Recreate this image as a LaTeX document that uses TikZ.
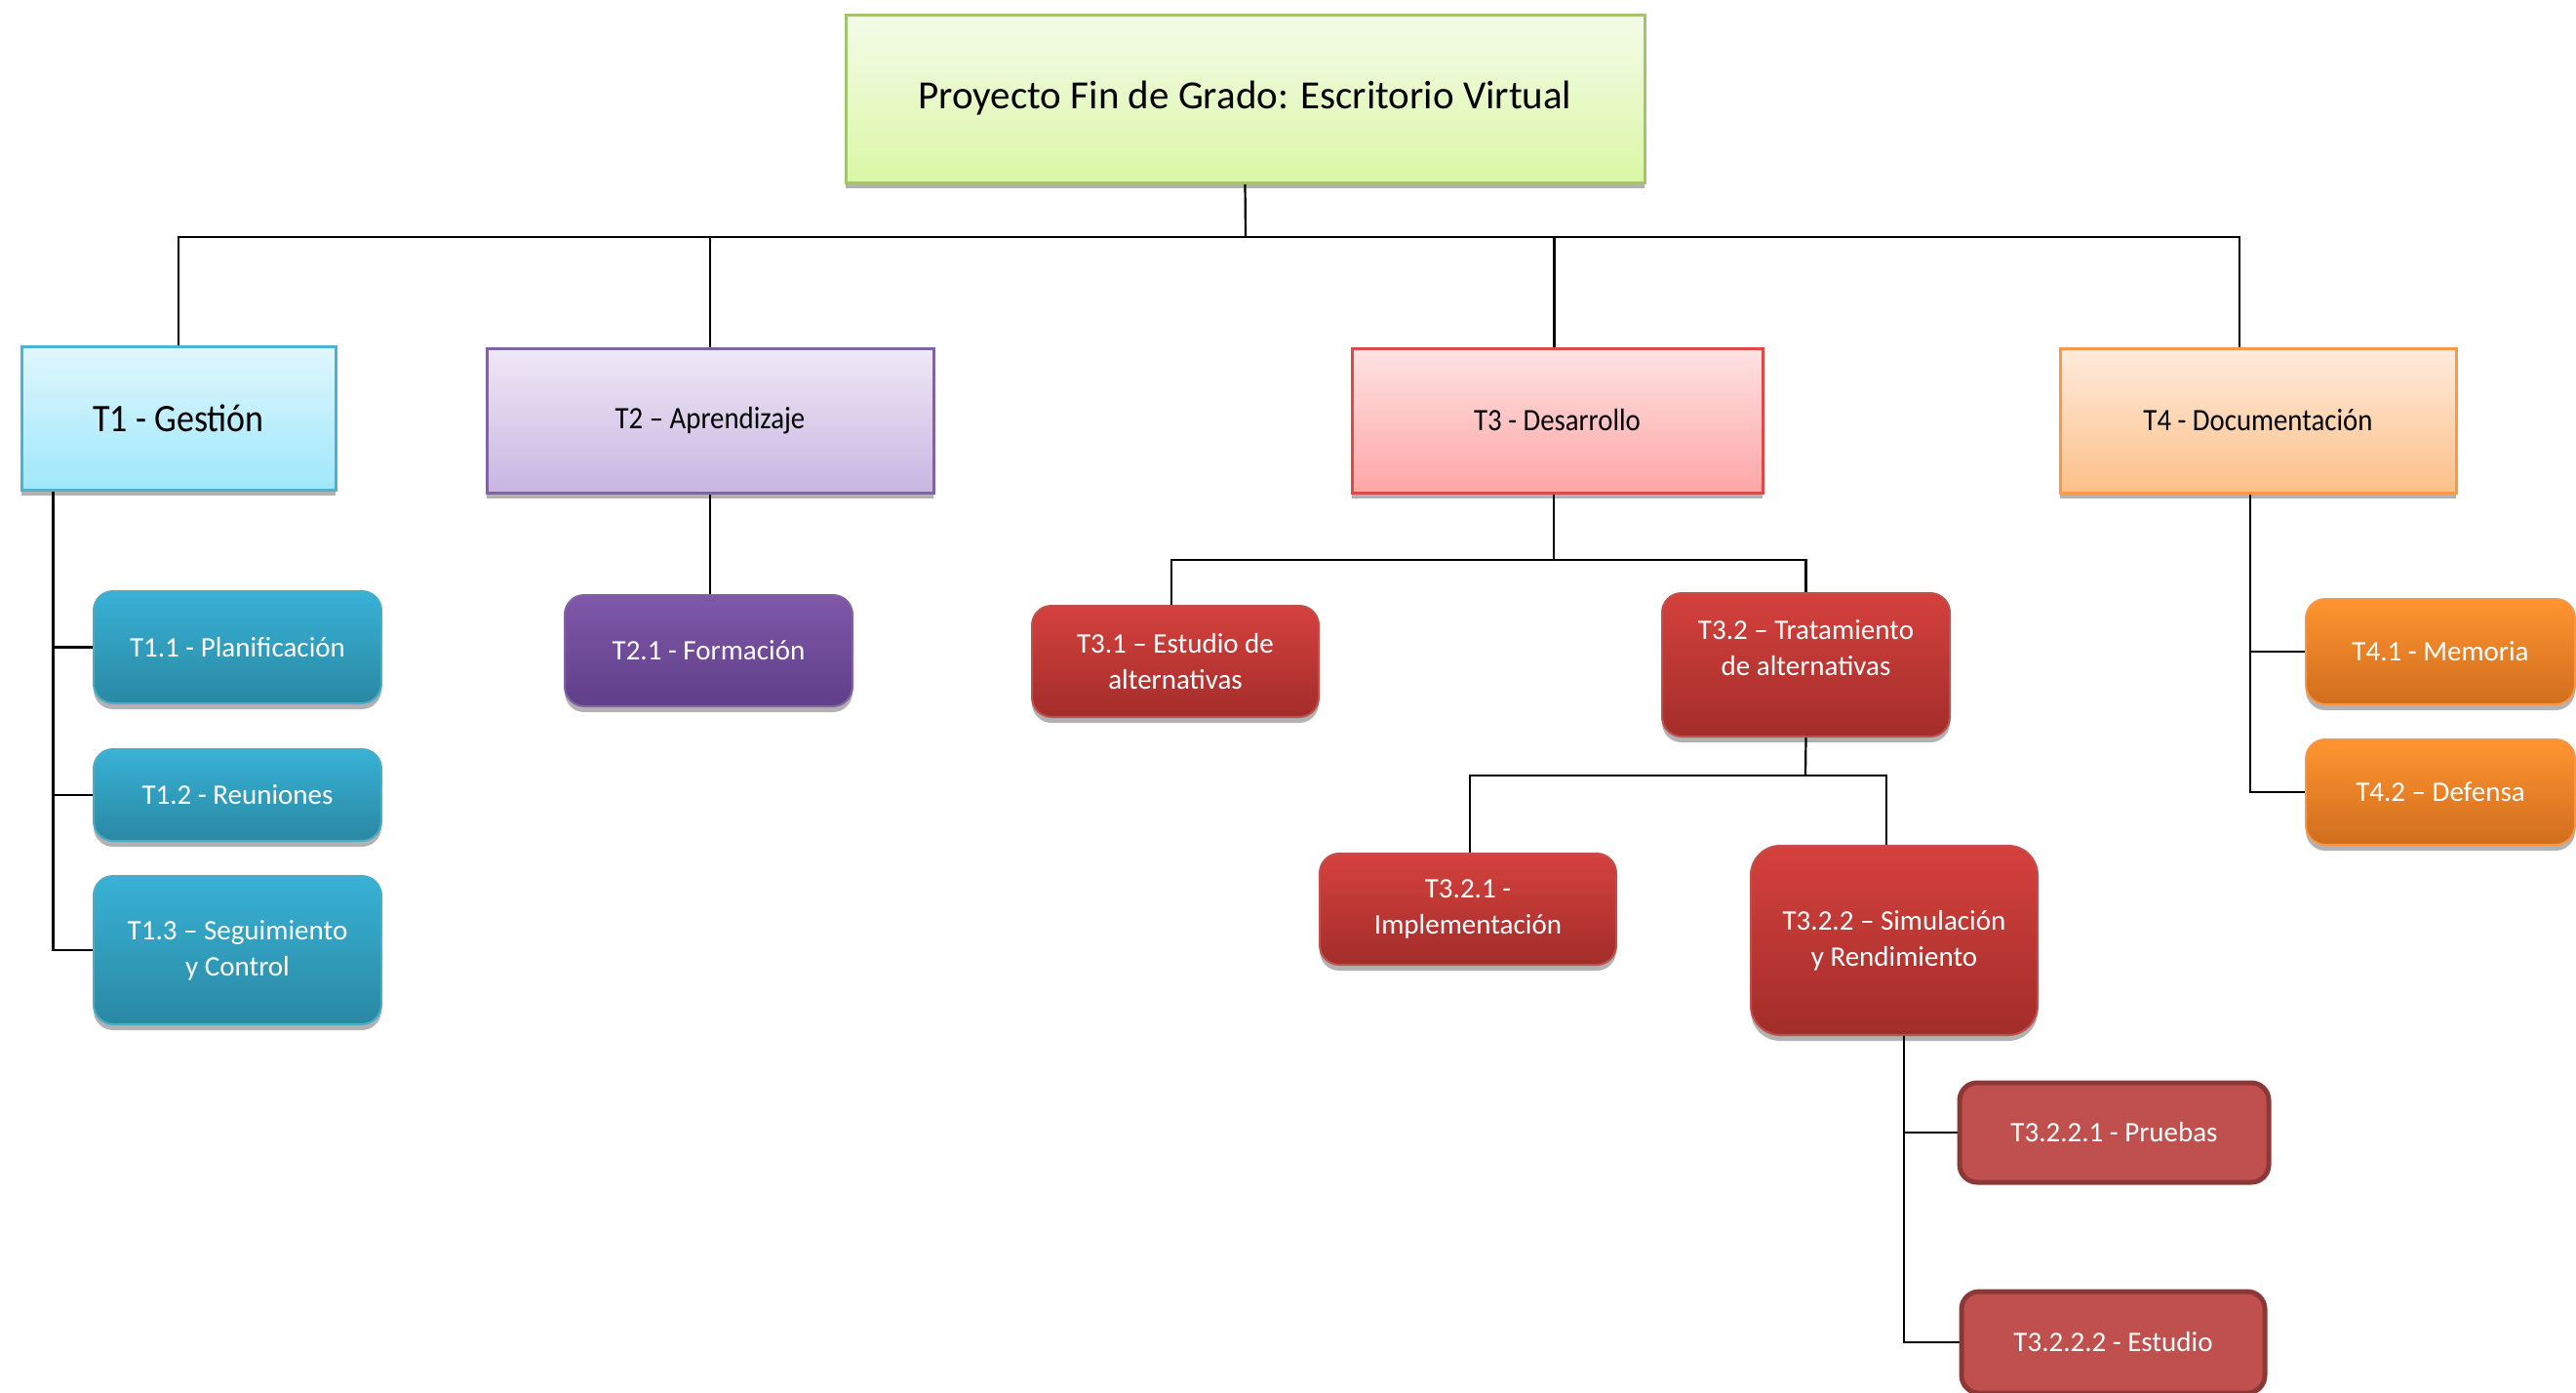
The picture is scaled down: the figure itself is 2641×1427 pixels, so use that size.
\documentclass[tikz,border=0pt]{standalone}
\usepackage{fontspec}
\setmainfont{Carlito}
\newfontfamily\condfont[FakeStretch=0.9]{Carlito}
\usetikzlibrary{shadows,backgrounds,calc}
\definecolor{roottop}{HTML}{F3FBE8}
\definecolor{rootbot}{HTML}{DBF7A6}
\definecolor{rootbd}{HTML}{A2C46C}
\definecolor{aTop}{HTML}{E0F7FD}
\definecolor{aBot}{HTML}{9FE7FB}
\definecolor{aBd}{HTML}{4BB3CF}
\definecolor{bTop}{HTML}{EFE8F6}
\definecolor{bBot}{HTML}{C8B6E2}
\definecolor{bBd}{HTML}{8064A2}
\definecolor{cTop}{HTML}{FFE2E2}
\definecolor{cBot}{HTML}{FFA6A6}
\definecolor{cBd}{HTML}{DA4A48}
\definecolor{dTop}{HTML}{FFEBDC}
\definecolor{dBot}{HTML}{FBC088}
\definecolor{dBd}{HTML}{F7994A}
\definecolor{sATop}{HTML}{38B2D6}
\definecolor{sABot}{HTML}{2A88A3}
\definecolor{sABd}{HTML}{4BACC6}
\definecolor{sBTop}{HTML}{8058AA}
\definecolor{sBBot}{HTML}{5F3F88}
\definecolor{sBBd}{HTML}{8064A2}
\definecolor{sCTop}{HTML}{D5413D}
\definecolor{sCBot}{HTML}{A22D2A}
\definecolor{sCBd}{HTML}{C0504D}
\definecolor{sDTop}{HTML}{FF9430}
\definecolor{sDBot}{HTML}{D06E1E}
\definecolor{sDBd}{HTML}{F79646}
\definecolor{flatC}{HTML}{C0504D}
\definecolor{flatBd}{HTML}{8C3836}
\tikzset{
  shad/.style={drop shadow={shadow xshift=0pt,shadow yshift=-6pt,opacity=0.3,fill=black}},
  mainbox/.style={rectangle, line width=3pt, inner sep=0pt, align=center, text=black, shad},
  subbox/.style={rectangle, rounded corners=20pt, line width=2pt, inner sep=0pt, align=center,
     text=white, font=\fontsize{29}{37}\selectfont, shad},
  leafbox/.style={rectangle, rounded corners=18pt, line width=5pt, inner sep=0pt, align=center,
     text=white, font=\fontsize{29}{37}\selectfont, draw=flatBd, fill=flatC},
  headfont/.style={font=\condfont\fontsize{32}{38}\selectfont},
  rootc/.style={draw=rootbd, top color=roottop, bottom color=rootbot},
  ac/.style={draw=aBd, top color=aTop, bottom color=aBot},
  bc/.style={draw=bBd, top color=bTop, bottom color=bBot},
  cc/.style={draw=cBd, top color=cTop, bottom color=cBot},
  dc/.style={draw=dBd, top color=dTop, bottom color=dBot},
  sac/.style={draw=sABd, top color=sATop, bottom color=sABot},
  sbc/.style={draw=sBBd, top color=sBTop, bottom color=sBBot},
  scc/.style={draw=sCBd, top color=sCTop, bottom color=sCBot},
  sdc/.style={draw=sDBd, top color=sDTop, bottom color=sDBot},
  conn/.style={line width=2.2pt, black}
}
\begin{document}
\begin{tikzpicture}[x=1pt,y=-1pt]
\clip (0,0) rectangle (2641,1427);
% level 0
\node[mainbox, rootc, minimum width=819pt, minimum height=172pt, font=\fontsize{41}{48}\selectfont] (root) at (1276.5,101) {Proyecto Fin de Grado: Escritorio Virtual};
% level 1
\node[mainbox, ac, minimum width=322pt, minimum height=147pt, font=\condfont\fontsize{40}{46}\selectfont] (T1) at (183,428.5) {T1 - Gestión};
\node[mainbox, bc, headfont, minimum width=458pt, minimum height=148pt] (T2) at (728,431) {T2 – Aprendizaje};
\node[mainbox, cc, headfont, minimum width=421pt, minimum height=148pt] (T3) at (1596.5,431) {T3 - Desarrollo};
\node[mainbox, dc, headfont, minimum width=406pt, minimum height=148pt] (T4) at (2315,431) {T4 - Documentación};
% T1 children
\node[subbox, sac, minimum width=295pt, minimum height=115pt] (T11) at (243.5,663.5) {T1.1 - Planificación};
\node[subbox, sac, minimum width=295pt, minimum height=94pt] (T12) at (243.5,815) {T1.2 - Reuniones};
\node[subbox, sac, minimum width=295pt, minimum height=152pt] (T13) at (243.5,974) {T1.3 – Seguimiento\\y Control};
% T2 child
\node[subbox, sbc, minimum width=295pt, minimum height=114pt] (T21) at (726.5,667) {T2.1 - Formación};
% T3 children
\node[subbox, scc, minimum width=294pt, minimum height=114pt] (T31) at (1205,678) {T3.1 – Estudio de\\alternativas};
\node[subbox, scc, minimum width=295pt, minimum height=147pt, text depth=34pt] (T32) at (1851.5,681.5) {T3.2 – Tratamiento\\de alternativas};
\node[subbox, scc, minimum width=304pt, minimum height=114pt] (T321) at (1505,932) {T3.2.1 -\\Implementación};
\node[subbox, scc, rounded corners=30pt, minimum width=294pt, minimum height=194pt] (T322) at (1942,964) {T3.2.2 – Simulación\\y Rendimiento};
\node[leafbox, minimum width=317pt, minimum height=102pt] (T3221) at (2167.5,1161) {T3.2.2.1 - Pruebas};
\node[leafbox, minimum width=311pt, minimum height=104pt] (T3222) at (2166.5,1376) {T3.2.2.2 - Estudio};
% T4 children
\node[subbox, sdc, minimum width=276pt, minimum height=108pt] (T41) at (2502,668) {T4.1 - Memoria};
\node[subbox, sdc, minimum width=276pt, minimum height=108pt] (T42) at (2502,812) {T4.2 – Defensa};
% connectors
\begin{scope}[on background layer]
\fill[white] (0,0) rectangle (2641,1427);
\coordinate (b0) at (1277,243);
\draw[conn] (root.south) -- (b0);
\draw[conn] (T1.north) |- (b0);
\draw[conn] (T2.north) |- (b0);
\draw[conn] ([xshift=-3pt]T3.north) |- (b0);
\draw[conn] ([xshift=-19pt]T4.north) |- (b0);
\coordinate (v1) at ([xshift=34pt]T1.south west);
\draw[conn] (v1) |- (T13.west);
\draw[conn] (T11.west) -- (T11.west -| v1);
\draw[conn] (T12.west) -- (T12.west -| v1);
\draw[conn] (T2.south) -- (T2.south |- T21.north);
\coordinate (h3) at (1593,574);
\draw[conn] (T3.south -| h3) -- (h3);
\draw[conn] ([xshift=-4pt]T31.north) |- (h3);
\draw[conn] (T32.north) |- (h3);
\coordinate (h32) at (1851,795);
\draw[conn] (T32.south) -- (h32);
\draw[conn] ([xshift=2pt]T321.north) |- (h32);
\draw[conn] ([xshift=-8pt]T322.north) |- (h32);
\coordinate (v322) at ([xshift=10pt]T322.south);
\draw[conn] (v322) |- (T3222.west);
\draw[conn] (T3221.west) -- (T3221.west -| v322);
\coordinate (v4) at ([xshift=-8pt]T4.south);
\draw[conn] (v4) |- (T42.west);
\draw[conn] (T41.west) -- (T41.west -| v4);
\end{scope}
\end{tikzpicture}
\end{document}
